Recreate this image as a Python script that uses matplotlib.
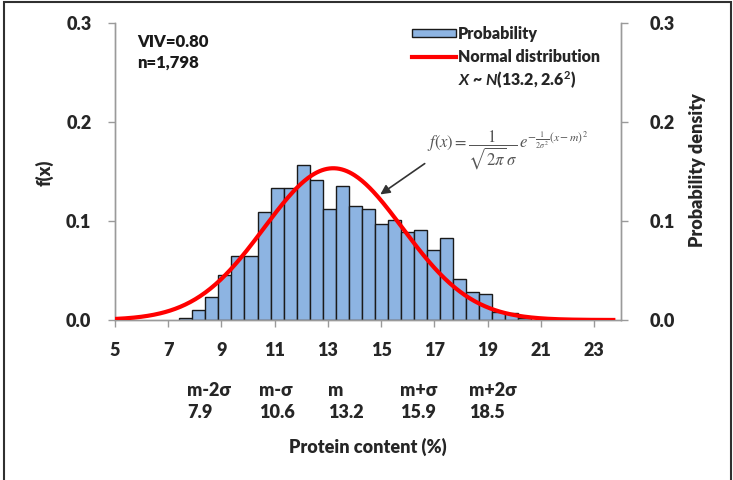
import numpy as np
import matplotlib
matplotlib.use('Agg')
import matplotlib.pyplot as plt
from matplotlib.patches import Patch, Rectangle
from matplotlib.lines import Line2D
import matplotlib.transforms as mtransforms

# ---- data ----
bin_start = 7.42      # left edge of first bar (protein content, %)
bin_width = 0.489
probability = [0.002, 0.010, 0.023, 0.0455, 0.065, 0.065, 0.109, 0.133, 0.133,
               0.157, 0.142, 0.112, 0.135, 0.1155, 0.112, 0.097, 0.101, 0.089,
               0.091, 0.0707, 0.083, 0.0414, 0.028, 0.0265, 0.008, 0.0075, 0.002]
mean = 13.2
sd = 2.6
curve_range = (5.0, 23.8)
sigma_labels = ['m-2\u03c3', 'm-\u03c3', 'm', 'm+\u03c3', 'm+2\u03c3']
sigma_values = [7.9, 10.6, 13.2, 15.9, 18.5]
x_ticks = [5, 7, 9, 11, 13, 15, 17, 19, 21, 23]
y_ticks = [0.0, 0.1, 0.2, 0.3]

FONT = 'Lato'
TXT = '#262626'
AX = '#9a9a9a'
BW = 'heavy'

plt.rcParams['font.family'] = [FONT, 'DejaVu Sans']
plt.rcParams['mathtext.fontset'] = 'custom'
plt.rcParams['mathtext.it'] = 'Lato:italic:bold'
plt.rcParams['mathtext.rm'] = 'Lato:bold'
plt.rcParams['mathtext.bf'] = 'Lato:bold'

fig = plt.figure(figsize=(7.33, 4.8), dpi=100)
W, H = 733, 480
ax = fig.add_axes([115 / W, 1 - 320 / H, (620.7 - 115) / W, (320 - 23.3) / H])
ax2 = ax.twinx()

centers = bin_start + bin_width * (np.arange(len(probability)) + 0.5)
ax.bar(centers, probability, width=bin_width, color='#8db4e2',
       edgecolor='#1a1a1a', linewidth=1.0, zorder=2)

xs = np.linspace(curve_range[0], curve_range[1], 400)
pdf = np.exp(-0.5 * ((xs - mean) / sd) ** 2) / (sd * np.sqrt(2 * np.pi))
ax2.plot(xs, pdf, color='#ff0000', lw=3.0, solid_capstyle='butt', zorder=3)

for a in (ax, ax2):
    a.set_xlim(5, 24)
    a.set_ylim(0, 0.3)
    a.set_yticks(y_ticks)
    a.set_yticklabels([f'{v:.1f}' for v in y_ticks])
    for s in a.spines.values():
        s.set_color(AX)
        s.set_linewidth(1.0)
    a.spines['top'].set_visible(False)

ax.set_xticks(x_ticks)
ax.set_xticklabels([str(v) for v in x_ticks])
ax.tick_params(axis='x', direction='out', length=5, width=1, color=AX,
               pad=11, labelsize=13, labelcolor=TXT)
ax.tick_params(axis='y', direction='out', length=5, width=1, color=AX,
               pad=12, labelsize=13, labelcolor=TXT)
ax2.tick_params(axis='y', direction='out', length=5, width=1, color=AX,
                pad=16, labelsize=13, labelcolor=TXT)
for lbl in ax.get_xticklabels() + ax.get_yticklabels() + ax2.get_yticklabels():
    lbl.set_fontweight(BW)

ax2.patch.set_visible(False)

fig.text(45 / W, 1 - 173 / H, 'f(x)', rotation=90, ha='center', va='center',
         fontsize=13, fontweight=BW, color=TXT)
fig.text(697 / W, 1 - 170 / H, 'Probability density', rotation=90,
         ha='center', va='center', fontsize=13, fontweight=BW, color=TXT)
fig.text(368 / W, 1 - 447 / H, 'Protein content (%)', ha='center', va='center',
         fontsize=13, fontweight=BW, color=TXT)

# sigma labels below the axis
off = mtransforms.ScaledTranslation(-5 / 100, 0, fig.dpi_scale_trans)
trans = mtransforms.blended_transform_factory(ax.transData, fig.transFigure) + off
for lab, val in zip(sigma_labels, sigma_values):
    fig.text(val, 1 - 391 / H, lab, transform=trans, ha='left', va='center',
             fontsize=13, fontweight=BW, color=TXT)
    fig.text(val, 1 - 413 / H, f'{val:.1f}', transform=trans, ha='left',
             va='center', fontsize=13, fontweight=BW, color=TXT)

# annotations
fig.text(137 / W, 1 - 42 / H, 'VIV=0.80', ha='left', va='center',
         fontsize=12, fontweight=BW, color='#1a1a1a')
fig.text(137 / W, 1 - 63 / H, 'n=1,798', ha='left', va='center',
         fontsize=12, fontweight=BW, color='#1a1a1a')

handles = [Patch(facecolor='#8db4e2', edgecolor='#1a1a1a', linewidth=1.0),
           Line2D([0], [0], color='#ff0000', lw=3.0)]
leg = fig.legend(handles, ['Probability', 'Normal distribution'],
                 loc='upper left', bbox_to_anchor=(412 / W, 1 - 26 / H),
                 frameon=False, fontsize=11.5, handlelength=2.75,
                 handleheight=0.4, handletextpad=0.15, labelspacing=0.45,
                 borderaxespad=0, borderpad=0)
for t in leg.get_texts():
    t.set_fontweight(BW)
    t.set_color(TXT)
fig.text(458 / W, 1 - 80 / H, r'$X$ ~ $N$(13.2, 2.6$^{2}$)',
         ha='left', va='center', fontsize=11.5, fontweight=BW, color=TXT)

fig.text(427 / W, 1 - 150 / H,
         r'$f(x)=\dfrac{1}{\sqrt{2\pi}\,\sigma}\,e^{-\frac{1}{2\sigma^2}(x-m)^2}$',
         ha='left', va='center', fontsize=12, color='#555555',
         math_fontfamily='stix')
ax.annotate('', xy=(378 / W, 1 - 196 / H), xycoords='figure fraction',
            xytext=(427 / W, 1 - 162 / H), textcoords='figure fraction',
            arrowprops=dict(arrowstyle='-|>', color='#333333', lw=1.2,
                            mutation_scale=14), zorder=5)

fig.patches.append(Rectangle((4 / W, -10 / H), (730.5 - 4) / W, (478 + 10) / H,
                             transform=fig.transFigure, fill=False,
                             edgecolor='#303030', linewidth=1.5))

fig.savefig('out.png', dpi=100)
